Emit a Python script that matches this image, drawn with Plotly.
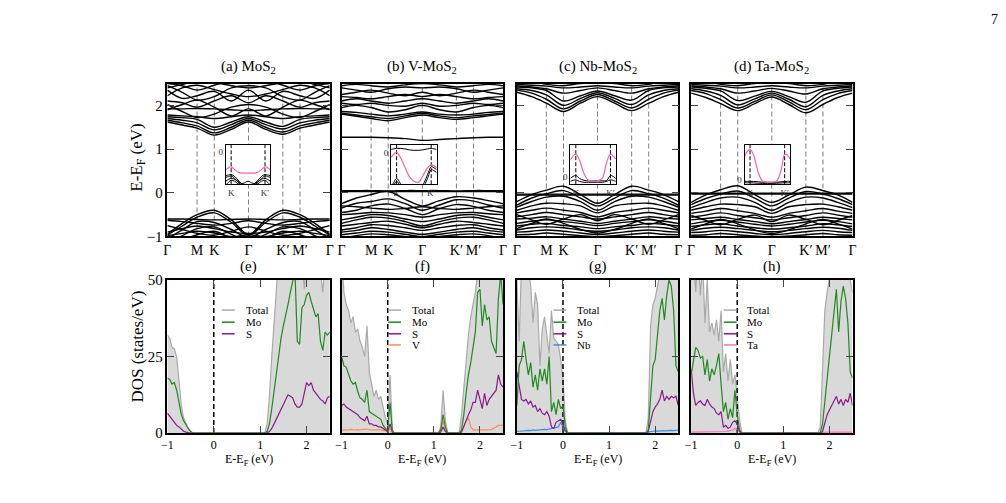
import plotly.graph_objects as go

W, H = 1006, 503
FONT = "Liberation Serif"

# ---------------- band structure data ----------------
KPTS = [0.0, 0.289, 0.577, 0.911, 1.244, 1.577, 1.911, 2.244, 2.577, 2.866, 3.155]
KLABEL_IDX = [0, 2, 3, 5, 7, 8, 10]
KLABELS = ["Γ", "M", "K", "Γ", "K′", "M′", "Γ"]
KLINE_IDX = [2, 3, 5, 7, 8]

A_BANDS = [
    [-0.95, -0.70, -0.50, -0.40, -0.62, -0.95, -0.62, -0.40, -0.50, -0.70, -0.95],
    [-0.97, -0.76, -0.56, -0.46, -0.68, -0.97, -0.68, -0.46, -0.56, -0.76, -0.97],
    [-0.60, -0.60, -0.61, -0.62, -0.61, -0.60, -0.61, -0.62, -0.61, -0.60, -0.60],
    [-0.63, -0.66, -0.70, -0.74, -0.70, -0.64, -0.70, -0.74, -0.70, -0.66, -0.63],
    [-1.05, -0.85, -0.66, -0.68, -0.84, -1.02, -0.84, -0.68, -0.66, -0.85, -1.05],
    [-0.90, -0.82, -0.76, -0.82, -0.90, -0.93, -0.90, -0.82, -0.76, -0.82, -0.90],
    [-1.15, -0.98, -0.82, -0.78, -0.95, -1.10, -0.95, -0.78, -0.82, -0.98, -1.15],
    [-0.75, -0.84, -0.93, -0.97, -0.88, -0.78, -0.88, -0.97, -0.93, -0.84, -0.75],
    [-0.98, -0.93, -0.88, -0.92, -1.00, -0.96, -1.00, -0.92, -0.88, -0.93, -0.98],
    [-1.20, -1.08, -0.96, -0.88, -1.05, -1.20, -1.05, -0.88, -0.96, -1.08, -1.20],
    [1.62, 1.55, 1.48, 1.32, 1.45, 1.62, 1.45, 1.34, 1.48, 1.55, 1.62],
    [1.66, 1.60, 1.53, 1.37, 1.50, 1.66, 1.50, 1.39, 1.53, 1.60, 1.66],
    [1.70, 1.66, 1.60, 1.44, 1.56, 1.70, 1.56, 1.46, 1.60, 1.66, 1.70],
    [1.74, 1.72, 1.68, 1.50, 1.62, 1.74, 1.62, 1.52, 1.68, 1.72, 1.74],
    [1.78, 1.76, 1.74, 1.70, 1.74, 1.78, 1.74, 1.70, 1.74, 1.76, 1.78],
    [1.90, 2.02, 2.12, 1.96, 1.76, 1.92, 1.76, 1.96, 2.12, 2.02, 1.90],
    [2.02, 1.86, 1.72, 1.80, 1.96, 2.02, 1.96, 1.80, 1.72, 1.86, 2.02],
    [1.92, 1.92, 1.93, 1.92, 1.90, 1.88, 1.90, 1.92, 1.93, 1.92, 1.92],
    [2.10, 2.06, 1.96, 2.10, 2.22, 2.06, 2.22, 2.10, 1.96, 2.06, 2.10],
    [2.35, 2.16, 2.22, 2.32, 2.10, 2.35, 2.10, 2.32, 2.22, 2.16, 2.35],
    [2.45, 2.30, 2.12, 2.20, 2.40, 2.45, 2.40, 2.20, 2.12, 2.30, 2.45],
    [2.22, 2.40, 2.46, 2.36, 2.26, 2.20, 2.26, 2.36, 2.46, 2.40, 2.22],
    [2.50, 2.45, 2.35, 2.46, 2.55, 2.50, 2.55, 2.46, 2.35, 2.45, 2.50],
    [2.40, 2.48, 2.55, 2.52, 2.45, 2.40, 2.45, 2.52, 2.55, 2.48, 2.40],
]

B_BANDS = [
    [0.05, 0.05, 0.05, 0.04, 0.05, 0.05, 0.05, 0.04, 0.05, 0.05, 0.05],
    [0.03, 0.03, 0.03, 0.03, 0.03, 0.03, 0.03, 0.03, 0.03, 0.03, 0.03],
    [-0.25, -0.12, -0.04, 0.03, -0.15, -0.30, -0.18, -0.09, -0.12, -0.18, -0.25],
    [-0.35, -0.24, -0.20, -0.14, -0.25, -0.40, -0.28, -0.16, -0.19, -0.28, -0.35],
    [-0.30, -0.32, -0.35, -0.38, -0.36, -0.32, -0.36, -0.38, -0.35, -0.32, -0.30],
    [-0.45, -0.40, -0.30, -0.26, -0.36, -0.50, -0.36, -0.27, -0.31, -0.40, -0.45],
    [-0.50, -0.48, -0.45, -0.46, -0.50, -0.56, -0.50, -0.46, -0.45, -0.48, -0.50],
    [-0.62, -0.56, -0.50, -0.52, -0.60, -0.66, -0.60, -0.52, -0.50, -0.56, -0.62],
    [-0.70, -0.62, -0.56, -0.58, -0.66, -0.76, -0.66, -0.58, -0.56, -0.62, -0.70],
    [-0.76, -0.72, -0.68, -0.65, -0.72, -0.80, -0.72, -0.65, -0.68, -0.72, -0.76],
    [-0.85, -0.80, -0.73, -0.75, -0.80, -0.86, -0.80, -0.75, -0.73, -0.80, -0.85],
    [-0.90, -0.86, -0.80, -0.84, -0.90, -0.95, -0.90, -0.84, -0.80, -0.86, -0.90],
    [-0.96, -0.92, -0.88, -0.90, -0.95, -1.00, -0.95, -0.90, -0.88, -0.92, -0.96],
    [-1.05, -0.98, -0.94, -0.96, -1.00, -1.05, -1.00, -0.96, -0.94, -0.98, -1.05],
    [1.27, 1.27, 1.27, 1.26, 1.24, 1.20, 1.22, 1.24, 1.26, 1.27, 1.27],
    [1.80, 1.75, 1.70, 1.65, 1.72, 1.78, 1.72, 1.68, 1.72, 1.76, 1.80],
    [1.82, 1.78, 1.74, 1.70, 1.76, 1.82, 1.76, 1.72, 1.76, 1.79, 1.82],
    [1.86, 1.84, 1.80, 1.76, 1.80, 1.85, 1.80, 1.78, 1.80, 1.84, 1.86],
    [1.95, 2.00, 1.95, 1.85, 1.90, 2.00, 1.90, 1.85, 1.95, 2.00, 1.95],
    [2.05, 2.02, 2.05, 2.00, 1.98, 2.05, 1.98, 2.00, 2.05, 2.02, 2.05],
    [2.10, 2.15, 2.10, 2.05, 2.10, 2.15, 2.10, 2.05, 2.10, 2.15, 2.10],
    [2.20, 2.18, 2.15, 2.20, 2.25, 2.20, 2.25, 2.20, 2.15, 2.18, 2.20],
    [2.25, 2.30, 2.35, 2.28, 2.22, 2.30, 2.22, 2.28, 2.35, 2.30, 2.25],
    [2.40, 2.35, 2.30, 2.38, 2.42, 2.40, 2.42, 2.38, 2.30, 2.35, 2.40],
    [2.45, 2.48, 2.45, 2.42, 2.47, 2.50, 2.47, 2.42, 2.45, 2.48, 2.45],
]

C_BANDS = [
    [-0.03, -0.03, -0.03, -0.03, -0.03, -0.03, -0.03, -0.03, -0.03, -0.03, -0.03],
    [-0.05, -0.05, -0.05, -0.05, -0.05, -0.05, -0.05, -0.05, -0.05, -0.05, -0.05],
    [-0.20, -0.04, 0.06, 0.15, -0.04, -0.24, -0.04, 0.15, 0.06, -0.04, -0.20],
    [-0.28, -0.12, -0.02, 0.05, -0.12, -0.30, -0.12, 0.05, -0.02, -0.12, -0.28],
    [-0.33, -0.20, -0.10, -0.08, -0.20, -0.40, -0.20, -0.08, -0.10, -0.20, -0.33],
    [-0.40, -0.30, -0.24, -0.25, -0.30, -0.46, -0.30, -0.25, -0.24, -0.30, -0.40],
    [-0.46, -0.40, -0.35, -0.40, -0.45, -0.55, -0.45, -0.40, -0.35, -0.40, -0.46],
    [-0.55, -0.50, -0.45, -0.50, -0.55, -0.60, -0.55, -0.50, -0.45, -0.50, -0.55],
    [-0.60, -0.58, -0.55, -0.60, -0.65, -0.70, -0.65, -0.60, -0.55, -0.58, -0.60],
    [-0.70, -0.65, -0.62, -0.66, -0.70, -0.75, -0.70, -0.66, -0.62, -0.65, -0.70],
    [-0.76, -0.72, -0.70, -0.75, -0.78, -0.82, -0.78, -0.75, -0.70, -0.72, -0.76],
    [-0.85, -0.80, -0.78, -0.80, -0.85, -0.88, -0.85, -0.80, -0.78, -0.80, -0.85],
    [-0.90, -0.88, -0.85, -0.88, -0.92, -0.95, -0.92, -0.88, -0.85, -0.88, -0.90],
    [-0.96, -0.95, -0.92, -0.95, -0.98, -1.00, -0.98, -0.95, -0.92, -0.95, -0.96],
    [-0.50, -0.62, -0.72, -0.60, -0.50, -0.64, -0.50, -0.60, -0.72, -0.62, -0.50],
    [-0.82, -0.70, -0.60, -0.70, -0.84, -0.92, -0.84, -0.70, -0.60, -0.70, -0.82],
    [2.30, 2.20, 2.05, 1.86, 2.05, 2.20, 2.05, 1.88, 2.05, 2.20, 2.30],
    [2.35, 2.28, 2.14, 1.92, 2.10, 2.25, 2.10, 1.94, 2.14, 2.28, 2.35],
    [2.38, 2.34, 2.24, 2.00, 2.16, 2.29, 2.16, 2.02, 2.24, 2.34, 2.38],
    [2.42, 2.40, 2.34, 2.10, 2.22, 2.33, 2.22, 2.12, 2.34, 2.40, 2.42],
    [2.45, 2.42, 2.38, 2.28, 2.34, 2.40, 2.34, 2.28, 2.38, 2.42, 2.45],
    [2.48, 2.46, 2.44, 2.40, 2.42, 2.45, 2.42, 2.40, 2.44, 2.46, 2.48],
    [2.52, 2.55, 2.48, 2.45, 2.50, 2.52, 2.50, 2.45, 2.48, 2.55, 2.52],
]

D_BANDS = [
    [-0.01, -0.01, -0.01, -0.01, -0.01, -0.01, -0.01, -0.01, -0.01, -0.01, -0.01],
    [-0.03, -0.03, -0.03, -0.03, -0.03, -0.03, -0.03, -0.03, -0.03, -0.03, -0.03],
    [-0.22, -0.05, 0.07, 0.16, -0.04, -0.22, -0.05, 0.13, 0.05, -0.05, -0.22],
    [-0.27, -0.13, -0.03, 0.04, -0.12, -0.30, -0.12, 0.03, -0.03, -0.13, -0.27],
    [-0.34, -0.22, -0.12, -0.10, -0.22, -0.40, -0.22, -0.10, -0.12, -0.22, -0.34],
    [-0.40, -0.32, -0.26, -0.27, -0.32, -0.47, -0.32, -0.27, -0.26, -0.32, -0.40],
    [-0.47, -0.42, -0.36, -0.41, -0.47, -0.56, -0.47, -0.41, -0.36, -0.42, -0.47],
    [-0.56, -0.51, -0.46, -0.52, -0.57, -0.62, -0.57, -0.52, -0.46, -0.51, -0.56],
    [-0.62, -0.59, -0.56, -0.61, -0.66, -0.71, -0.66, -0.61, -0.56, -0.59, -0.62],
    [-0.71, -0.66, -0.63, -0.67, -0.72, -0.76, -0.72, -0.67, -0.63, -0.66, -0.71],
    [-0.77, -0.73, -0.71, -0.76, -0.80, -0.83, -0.80, -0.76, -0.71, -0.73, -0.77],
    [-0.86, -0.81, -0.79, -0.82, -0.86, -0.89, -0.86, -0.82, -0.79, -0.81, -0.86],
    [-0.91, -0.89, -0.86, -0.89, -0.93, -0.96, -0.93, -0.89, -0.86, -0.89, -0.91],
    [-0.97, -0.96, -0.93, -0.96, -0.99, -1.01, -0.99, -0.96, -0.93, -0.96, -0.97],
    [-0.52, -0.63, -0.73, -0.61, -0.51, -0.66, -0.51, -0.61, -0.73, -0.63, -0.52],
    [-0.83, -0.71, -0.61, -0.71, -0.85, -0.93, -0.85, -0.71, -0.61, -0.71, -0.83],
    [2.28, 2.18, 2.04, 1.88, 2.04, 2.19, 2.02, 1.83, 2.02, 2.18, 2.28],
    [2.34, 2.27, 2.13, 1.94, 2.09, 2.24, 2.08, 1.90, 2.13, 2.27, 2.34],
    [2.38, 2.33, 2.23, 2.01, 2.15, 2.28, 2.14, 1.97, 2.23, 2.33, 2.38],
    [2.42, 2.39, 2.33, 2.11, 2.21, 2.32, 2.20, 2.07, 2.33, 2.39, 2.42],
    [2.45, 2.42, 2.38, 2.28, 2.33, 2.39, 2.33, 2.26, 2.38, 2.42, 2.45],
    [2.48, 2.46, 2.44, 2.40, 2.42, 2.45, 2.42, 2.40, 2.44, 2.46, 2.48],
    [2.52, 2.55, 2.48, 2.45, 2.50, 2.52, 2.50, 2.45, 2.48, 2.55, 2.52],
]

BAND_SETS = [A_BANDS, B_BANDS, C_BANDS, D_BANDS]
BAND_TITLES = ["(a) MoS<sub>2</sub>", "(b) V-MoS<sub>2</sub>",
               "(c) Nb-MoS<sub>2</sub>", "(d) Ta-MoS<sub>2</sub>"]
BAND_YRANGE = [-1.0, 2.5]

# ---------------- inset data ----------------
INSET_KX = [0.0, 0.06, 0.12, 0.2, 0.3, 0.4, 0.5, 0.6, 0.7, 0.8, 0.88, 0.94, 1.0]
INSET_K_IDX = [2, 10]
INSET_YRANGES = [[-0.33, 0.08], [-0.32, 0.09], [-0.08, 0.33], [-0.04, 0.37]]
INSET_PINK = [
    [-0.18, -0.16, -0.15, -0.18, -0.21, -0.215, -0.215, -0.215, -0.21, -0.18, -0.15, -0.16, -0.18],
    [-0.04, -0.01, 0.01, -0.04, -0.14, -0.24, -0.29, -0.30, -0.23, -0.15, -0.12, -0.13, -0.15],
    [0.17, 0.21, 0.23, 0.17, 0.03, -0.04, -0.045, -0.045, -0.02, 0.15, 0.23, 0.21, 0.18],
    [0.25, 0.30, 0.32, 0.26, 0.08, -0.01, -0.02, -0.02, -0.01, 0.10, 0.27, 0.26, 0.22],
]
INSET_BLACK = [
    [[-0.24, -0.235, -0.23, -0.25, -0.30, -0.34, -0.36, -0.34, -0.30, -0.25, -0.23, -0.235, -0.24],
     [-0.26, -0.25, -0.245, -0.27, -0.32, -0.36, -0.38, -0.36, -0.32, -0.27, -0.245, -0.25, -0.26],
     [-0.30, -0.28, -0.27, -0.28, -0.31, -0.33, -0.34, -0.33, -0.31, -0.28, -0.27, -0.28, -0.30],
     [-0.34, -0.31, -0.29, -0.30, -0.33, -0.32, -0.30, -0.32, -0.33, -0.30, -0.29, -0.31, -0.34]],
    [[0.04, 0.045, 0.05, 0.05, 0.045, 0.035, 0.03, 0.03, 0.035, 0.045, 0.05, 0.045, 0.04],
     [-0.35, -0.30, -0.26, -0.31, -0.40, -0.45, -0.45, -0.40, -0.33, -0.22, -0.14, -0.15, -0.17],
     [-0.38, -0.33, -0.29, -0.34, -0.42, -0.45, -0.45, -0.42, -0.36, -0.26, -0.17, -0.18, -0.20]],
    [[-0.02, 0.0, 0.01, -0.02, -0.04, -0.045, -0.045, -0.045, -0.045, -0.04, 0.01, 0.0, -0.02],
     [-0.05, -0.04, -0.035, -0.05, -0.06, -0.06, -0.06, -0.06, -0.06, -0.05, -0.035, -0.04, -0.05]],
    [[-0.01, -0.01, -0.01, -0.012, -0.015, -0.02, -0.02, -0.02, -0.02, -0.015, -0.012, -0.01, -0.01],
     [-0.025, -0.025, -0.025, -0.027, -0.03, -0.032, -0.032, -0.032, -0.03, -0.027, -0.025, -0.025, -0.025]],
]

# ---------------- DOS data ----------------
E = [-1.0, -0.95, -0.9, -0.85, -0.8, -0.75, -0.7, -0.65, -0.6, -0.55,
     -0.5, -0.45, -0.4, -0.35, -0.3, -0.25, -0.2, -0.15, -0.1, -0.05,
     0.0, 0.05, 0.1, 0.15, 0.2, 0.25, 0.3, 0.35, 0.4, 0.45,
     0.5, 0.55, 0.6, 0.65, 0.7, 0.75, 0.8, 0.85, 0.9, 0.95,
     1.0, 1.05, 1.1, 1.15, 1.2, 1.25, 1.3, 1.35, 1.4, 1.45,
     1.5, 1.55, 1.6, 1.65, 1.7, 1.75, 1.8, 1.85, 1.9, 1.95,
     2.0, 2.05, 2.1, 2.15, 2.2, 2.25, 2.3, 2.35, 2.4, 2.45, 2.5]

E_TOTAL = [32, 31, 28, 27.5, 25, 17, 9, 5, 3, 1.5,
           0.5, 0, 0, 0, 0, 0, 0, 0, 0, 0,
           0, 0, 0, 0, 0, 0, 0, 0, 0, 0,
           0, 0, 0, 0, 0, 0, 0, 0, 0, 0,
           0, 0, 0, 3, 12, 25, 38, 50, 58, 60,
           60, 60, 60, 60, 60, 60, 56, 55, 58, 47,
           55, 60, 60, 60, 60, 60, 53, 46, 55, 60, 60]
E_MO = [18, 17.5, 16, 16.5, 14, 10, 6, 4, 2.5, 1.5,
        0.5, 0, 0, 0, 0, 0, 0, 0, 0, 0,
        0, 0, 0, 0, 0, 0, 0, 0, 0, 0,
        0, 0, 0, 0, 0, 0, 0, 0, 0, 0,
        0, 0, 0, 0.5, 3, 8, 14, 20, 26, 31,
        35, 38, 42, 46, 50, 53, 30, 29, 41, 42,
        45, 46, 43, 40, 38, 39, 30, 27, 33, 32, 33]
E_S = [6.5, 5.5, 4.5, 3.5, 2.5, 2, 1.2, 0.6, 0.3, 0.1,
       0, 0, 0, 0, 0, 0, 0, 0, 0, 0,
       0, 0, 0, 0, 0, 0, 0, 0, 0, 0,
       0, 0, 0, 0, 0, 0, 0, 0, 0, 0,
       0, 0, 0, 0, 0.5, 1.5, 3, 4.5, 6, 7.5,
       9, 11, 12.5, 12, 11.5, 9.5, 8.5, 8.5, 9.5, 13,
       16.5, 15.5, 16.5, 14, 13, 12, 11, 10.5, 9.5, 11.5, 12]

F_TOTAL = [58, 46, 42, 40, 36, 38, 33, 34, 30, 28,
           25, 35, 20, 16, 12, 14, 11, 12, 8, 5,
           3, 19, 1, 0, 0, 0, 0, 0, 0, 0,
           0, 0, 0, 0, 0, 0, 0, 0, 0, 0,
           0, 0, 0, 2, 14, 4, 0, 0, 0, 0,
           0, 0, 6, 15, 25, 32, 38, 42, 46, 52,
           55, 52, 60, 60, 60, 60, 60, 60, 60, 60, 60]
F_MO = [25, 22, 21.5, 19, 17, 16, 16.5, 13.5, 11.5, 11,
        10, 14, 7, 6.5, 6, 5.5, 5, 4.5, 2.5, 1.5,
        1, 10, 0.5, 0, 0, 0, 0, 0, 0, 0,
        0, 0, 0, 0, 0, 0, 0, 0, 0, 0,
        0, 0, 0, 1, 6, 2, 0, 0, 0, 0,
        0, 0, 1, 6, 13, 19, 23, 28, 33, 46,
        47, 35, 42, 37, 38, 30, 28, 26, 44, 52, 42]
F_S = [9, 9.5, 8.5, 8, 7.5, 7, 6.5, 6, 5, 4.5,
       4, 5.5, 3, 3, 2.5, 2.5, 2, 2, 1.5, 1,
       0.5, 3, 0.3, 0, 0, 0, 0, 0, 0, 0,
       0, 0, 0, 0, 0, 0, 0, 0, 0, 0,
       0, 0, 0, 0.3, 2, 0.5, 0, 0, 0, 0,
       0, 0, 0.3, 2, 4, 6, 7.5, 10, 10, 14,
       11, 8, 13, 9, 11, 12, 13, 14, 19, 16, 15]
F_V = [1, 1, 0.8, 1, 1.2, 1, 1, 1.1, 1, 1.2,
       1.2, 1.3, 1, 1, 1.1, 1, 1.2, 1, 0.8, 0.8,
       0.5, 1.5, 0, 0, 0, 0, 0, 0, 0, 0,
       0, 0, 0, 0, 0, 0, 0, 0, 0, 0,
       0, 0, 0, 1, 4, 1, 0, 0, 0, 0,
       0, 0, 0.3, 2, 4, 5, 2, 1, 1, 0.8,
       0.8, 1, 1, 1, 1, 1.2, 1.5, 2, 2.5, 2.5, 2.5]

G_TOTAL = [50, 30, 55, 60, 58, 55, 48, 36, 46, 42,
           22, 34, 38, 32, 26, 40, 31, 30, 29, 24,
           18, 4, 0, 0, 0, 0, 0, 0, 0, 0,
           0, 0, 0, 0, 0, 0, 0, 0, 0, 0,
           0, 0, 0, 0, 0, 0, 0, 0, 0, 0,
           0, 0, 0, 0, 0, 0, 0, 5, 35, 42,
           44, 48, 52, 60, 60, 60, 60, 60, 60, 60, 60]
G_MO = [9, 22, 24, 30, 24, 19, 23, 15, 19, 14,
        21, 17, 21, 16, 25, 7, 10, 6, 11, 8,
        9, 2, 0, 0, 0, 0, 0, 0, 0, 0,
        0, 0, 0, 0, 0, 0, 0, 0, 0, 0,
        0, 0, 0, 0, 0, 0, 0, 0, 0, 0,
        0, 0, 0, 0, 0, 0, 0, 1, 11, 22,
        24, 32, 40, 44, 37, 45, 50, 48, 40, 22, 20]
G_S = [20, 16, 11, 10.5, 11, 9.5, 10.5, 8.5, 9, 7,
       8, 6.5, 6, 7, 5.5, 2, 1.5, 3.5, 4, 4.5,
       3, 0.8, 0, 0, 0, 0, 0, 0, 0, 0,
       0, 0, 0, 0, 0, 0, 0, 0, 0, 0,
       0, 0, 0, 0, 0, 0, 0, 0, 0, 0,
       0, 0, 0, 0, 0, 0, 0, 0.5, 4, 7,
       8.5, 9.5, 11, 14, 10.5, 12, 11, 12, 11.5, 12, 9]
G_NB = [0.5, 0.6, 0.8, 0.7, 0.8, 0.9, 0.8, 1, 0.9, 1,
        1.1, 1, 1.2, 1.1, 1.3, 1.4, 1.5, 1.8, 2, 3.5,
        2, 0.5, 0, 0, 0, 0, 0, 0, 0, 0,
        0, 0, 0, 0, 0, 0, 0, 0, 0, 0,
        0, 0, 0, 0, 0, 0, 0, 0, 0, 0,
        0, 0, 0, 0, 0, 0, 0, 0.2, 0.5, 0.6,
        0.6, 0.7, 0.6, 0.8, 0.7, 0.8, 0.8, 0.9, 0.8, 1, 1]

H_TOTAL = [60, 58, 46, 60, 45, 56, 36, 50, 33, 36,
           32, 37, 30, 40, 20, 26, 17, 24, 16, 19,
           12, 4.5, 0, 0, 0, 0, 0, 0, 0, 0,
           0, 0, 0, 0, 0, 0, 0, 0, 0, 0,
           0, 0, 0, 0, 0, 0, 0, 0, 0, 0,
           0, 0, 0, 0, 0, 0, 2, 22, 40, 46,
           50, 55, 60, 60, 60, 60, 60, 60, 60, 50, 46]
H_MO = [19, 24, 28, 27, 24.5, 25, 19, 24, 17, 21,
        19, 22, 26, 16, 7, 10, 4.5, 8, 5, 14,
        6, 1, 0, 0, 0, 0, 0, 0, 0, 0,
        0, 0, 0, 0, 0, 0, 0, 0, 0, 0,
        0, 0, 0, 0, 0, 0, 0, 0, 0, 0,
        0, 0, 0, 0, 0, 0, 0, 3, 10, 17,
        24, 33, 40, 47, 33, 43, 48, 44, 36, 20, 18]
H_S = [21, 13, 9, 10, 10.5, 9.5, 9, 11, 9.5, 8.5,
       8, 6.5, 6, 7, 2, 2.5, 1.5, 2, 3.5, 4,
       3, 0.5, 0, 0, 0, 0, 0, 0, 0, 0,
       0, 0, 0, 0, 0, 0, 0, 0, 0, 0,
       0, 0, 0, 0, 0, 0, 0, 0, 0, 0,
       0, 0, 0, 0, 0, 0, 0, 0.5, 3.5, 6,
       7.5, 9, 10, 12, 9.5, 11, 9, 11, 10, 13, 9]
H_TA = [0.3, 0.3, 0.3, 0.4, 0.3, 0.3, 0.4, 0.3, 0.4, 0.4,
        0.4, 0.4, 0.5, 0.4, 0.5, 0.5, 0.6, 0.8, 1, 1.5,
        1.2, 0.3, 0, 0, 0, 0, 0, 0, 0, 0,
        0, 0, 0, 0, 0, 0, 0, 0, 0, 0,
        0, 0, 0, 0, 0, 0, 0, 0, 0, 0,
        0, 0, 0, 0, 0, 0, 0, 0.1, 0.2, 0.3,
        0.3, 0.3, 0.3, 0.3, 0.3, 0.3, 0.3, 0.3, 0.3, 0.3, 0.3]

DOS_PANELS = [
    [("Total", E_TOTAL), ("Mo", E_MO), ("S", E_S)],
    [("Total", F_TOTAL), ("Mo", F_MO), ("S", F_S), ("V", F_V)],
    [("Total", G_TOTAL), ("Mo", G_MO), ("S", G_S), ("Nb", G_NB)],
    [("Total", H_TOTAL), ("Mo", H_MO), ("S", H_S), ("Ta", H_TA)],
]
DOS_TITLES = ["(e)", "(f)", "(g)", "(h)"]
DOS_YRANGE = [0, 50]
DOS_XRANGE = [-1, 2.5]

# ---------------- styles / geometry ----------------
COLORS = {"Total": "#a9a9a9", "Mo": "#1f8a1f", "S": "#8a1a8a",
          "V": "#ff8c5a", "Nb": "#3d8fe8", "Ta": "#ff6eb4"}
FILL = "#d9d9d9"
PINK = "#ff5fae"

PANEL_X = [(163, 327), (339, 502), (516, 679), (692, 855)]
TOP_Y = (78, 236)
BOT_Y = (281, 439)
INSET_BOX = [(222, 267), (389, 435), (570, 616), (746, 792)]
INSET_Y = (141, 182)
LEG_X = [(55, 68, 77), (47, 60, 69), (37, 50, 59), (33, 46, 54)]
LEG_ROWS = [312, 324.5, 336.5, 348]


def fx(x):
    return x / W


def fy(y):
    return 1 - y / H


def ax_key(n):
    return "" if n == 1 else str(n)


fig = go.Figure()
layout = dict(width=W, height=H, margin=dict(l=0, r=0, t=0, b=0),
              paper_bgcolor="white", plot_bgcolor="white", showlegend=False,
              font=dict(family=FONT, color="black"))
annotations = []
shapes = []

frame = dict(showline=True, linecolor="black", linewidth=1.5, showgrid=False,
             zeroline=False, fixedrange=True)

# ---- band panels ----
for p in range(4):
    n = p + 1
    k = ax_key(n)
    xa, ya = "x" + k, "y" + k
    x0, x1 = PANEL_X[p]
    layout["xaxis" + k] = dict(frame, domain=[fx(x0), fx(x1)], anchor=ya,
                               range=[KPTS[0], KPTS[-1]], tickmode="array",
                               tickvals=[KPTS[i] for i in KLABEL_IDX], ticktext=KLABELS,
                               ticks="", mirror=True, tickangle=0, tickfont=dict(size=14))
    layout["yaxis" + k] = dict(frame, domain=[fy(TOP_Y[1]), fy(TOP_Y[0])], anchor=xa,
                               range=BAND_YRANGE, tickmode="array", tickvals=[-1, 0, 1, 2],
                               ticks="inside", ticklen=7, tickwidth=1.3, mirror="ticks",
                               showticklabels=(p == 0), tickfont=dict(size=15))
    for i in KLINE_IDX:
        fig.add_trace(go.Scatter(x=[KPTS[i], KPTS[i]], y=BAND_YRANGE, mode="lines",
                                 line=dict(color="#7a7a7a", width=1, dash="5px,3px"),
                                 xaxis=xa, yaxis=ya, hoverinfo="skip"))
    for band in BAND_SETS[p]:
        fig.add_trace(go.Scatter(x=KPTS, y=band, mode="lines",
                                 line=dict(color="black", width=1.4, shape="spline", smoothing=1.0),
                                 xaxis=xa, yaxis=ya, hoverinfo="skip"))
    annotations.append(dict(text=BAND_TITLES[p], x=fx((x0 + x1) / 2), y=fy(61),
                            xref="paper", yref="paper", showarrow=False,
                            xanchor="center", yanchor="middle", font=dict(size=15)))

# ---- DOS panels ----
for p in range(4):
    n = p + 5
    k = ax_key(n)
    xa, ya = "x" + k, "y" + k
    x0, x1 = PANEL_X[p]
    layout["xaxis" + k] = dict(frame, domain=[fx(x0), fx(x1)], anchor=ya, range=DOS_XRANGE,
                               tickmode="array", tickvals=[-1, 0, 1, 2], ticks="inside",
                               ticklen=7, tickwidth=1.3, mirror="ticks", tickangle=0,
                               tickfont=dict(size=12))
    layout["yaxis" + k] = dict(frame, domain=[fy(BOT_Y[1]), fy(BOT_Y[0])], anchor=xa,
                               range=DOS_YRANGE, tickmode="array", tickvals=[0, 25, 50],
                               ticks="inside", ticklen=7, tickwidth=1.3, mirror="ticks",
                               showticklabels=(p == 0), tickfont=dict(size=15))
    series = DOS_PANELS[p]
    name0, tot = series[0]
    fig.add_trace(go.Scatter(x=E, y=tot, mode="lines", fill="tozeroy", fillcolor=FILL,
                             line=dict(color=COLORS[name0], width=1.2),
                             xaxis=xa, yaxis=ya, hoverinfo="skip"))
    fig.add_trace(go.Scatter(x=[0, 0], y=DOS_YRANGE, mode="lines",
                             line=dict(color="black", width=1.5, dash="5px,3px"),
                             xaxis=xa, yaxis=ya, hoverinfo="skip"))
    for name, vals in series[1:][::-1]:
        fig.add_trace(go.Scatter(x=E, y=vals, mode="lines",
                                 line=dict(color=COLORS[name], width=1.2),
                                 xaxis=xa, yaxis=ya, hoverinfo="skip"))
    # legend
    lx0, lx1, tx = LEG_X[p]
    for r, (name, _) in enumerate(series):
        yy = LEG_ROWS[r]
        shapes.append(dict(type="line", xref="paper", yref="paper",
                           x0=fx(x0 + lx0), x1=fx(x0 + lx1), y0=fy(yy), y1=fy(yy),
                           line=dict(color=COLORS[name], width=1.5)))
        annotations.append(dict(text=name, x=fx(x0 + tx), y=fy(yy), xref="paper", yref="paper",
                                showarrow=False, xanchor="left", yanchor="middle",
                                font=dict(size=11)))
    annotations.append(dict(text=DOS_TITLES[p], x=fx((x0 + x1) / 2), y=fy(267),
                            xref="paper", yref="paper", showarrow=False,
                            xanchor="center", yanchor="middle", font=dict(size=15)))
    annotations.append(dict(text="E-E<sub>F</sub> (eV)", x=fx((x0 + x1) / 2), y=fy(467),
                            xref="paper", yref="paper", showarrow=False,
                            xanchor="center", yanchor="middle", font=dict(size=12)))

# ---- insets ----
for p in range(4):
    n = p + 9
    k = ax_key(n)
    xa, ya = "x" + k, "y" + k
    ix0, ix1 = INSET_BOX[p]
    layout["xaxis" + k] = dict(showline=True, linecolor="black", linewidth=1, mirror=True,
                               showgrid=False, zeroline=False, fixedrange=True,
                               domain=[fx(ix0), fx(ix1)], anchor=ya, range=[0, 1],
                               tickmode="array", tickvals=[INSET_KX[i] for i in INSET_K_IDX],
                               ticktext=["K", "K′"], ticks="", tickangle=0,
                               tickfont=dict(size=9, color="#333333"))
    layout["yaxis" + k] = dict(showline=True, linecolor="black", linewidth=1, mirror=True,
                               showgrid=False, zeroline=False, fixedrange=True,
                               domain=[fy(INSET_Y[1]), fy(INSET_Y[0])], anchor=xa,
                               range=INSET_YRANGES[p], tickmode="array", tickvals=[0],
                               ticktext=["0"], ticks="",
                               tickfont=dict(size=9, color="#333333"))
    for i in INSET_K_IDX:
        fig.add_trace(go.Scatter(x=[INSET_KX[i], INSET_KX[i]], y=INSET_YRANGES[p], mode="lines",
                                 line=dict(color="black", width=1, dash="4px,2px"),
                                 xaxis=xa, yaxis=ya, hoverinfo="skip"))
    for band in INSET_BLACK[p]:
        fig.add_trace(go.Scatter(x=INSET_KX, y=band, mode="lines",
                                 line=dict(color="black", width=1, shape="spline"),
                                 xaxis=xa, yaxis=ya, hoverinfo="skip"))
    fig.add_trace(go.Scatter(x=INSET_KX, y=INSET_PINK[p], mode="lines",
                             line=dict(color=PINK, width=1.2, shape="spline"),
                             xaxis=xa, yaxis=ya, hoverinfo="skip"))

# ---- global labels ----
annotations.append(dict(text="E-E<sub>F</sub> (eV)", x=fx(133), y=fy(155), xref="paper",
                        yref="paper", showarrow=False, textangle=-90, xanchor="center",
                        yanchor="middle", font=dict(size=17)))
annotations.append(dict(text="DOS (states/eV)", x=fx(133), y=fy(350), xref="paper",
                        yref="paper", showarrow=False, textangle=-90, xanchor="center",
                        yanchor="middle", font=dict(size=17)))
annotations.append(dict(text="7", x=fx(998), y=fy(12), xref="paper", yref="paper",
                        showarrow=False, xanchor="center", yanchor="middle",
                        font=dict(size=14)))

layout["annotations"] = annotations
layout["shapes"] = shapes
fig.update_layout(**layout)
fig.write_html("out.html")
